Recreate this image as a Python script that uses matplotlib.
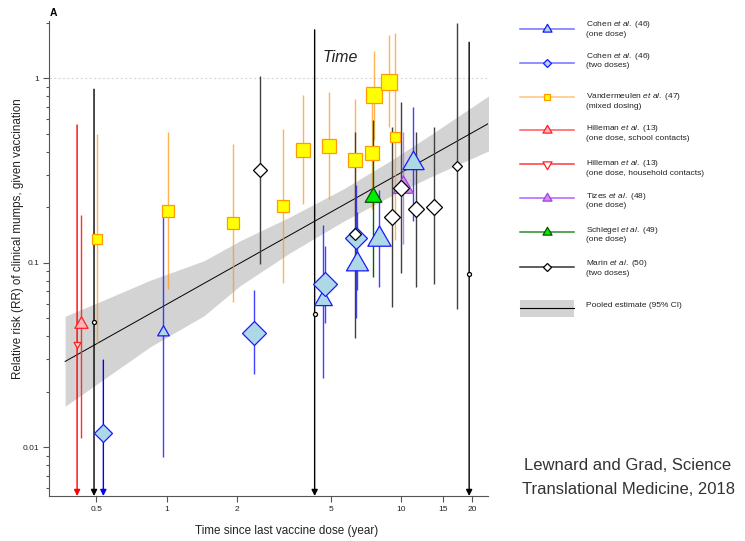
import numpy as np
import matplotlib
matplotlib.use("Agg")
import matplotlib.pyplot as plt
from matplotlib.path import Path
from matplotlib.ticker import FixedLocator, NullFormatter, NullLocator

plt.rcParams['font.family'] = ['Liberation Sans', 'DejaVu Sans']
plt.rcParams['mathtext.fontset'] = 'custom'
plt.rcParams['mathtext.rm'] = 'Liberation Sans'
plt.rcParams['mathtext.it'] = 'Liberation Sans:italic'

nan = np.nan

# estimates: time since last dose (years), RR, 95% CI (nan = lower bound off the axis)
cohen1_t = [0.96, 4.65, 6.5, 8.05, 11.2]
cohen1_rr = [0.042, 0.063, 0.099, 0.134, 0.347]
cohen1_lo = [0.0089, 0.0239, 0.0713, 0.074, 0.169]
cohen1_hi = [0.19, 0.16, 0.189, 0.248, 0.70]

cohen2_t = [0.537, 2.36, 4.74, 6.4]
cohen2_rr = [0.012, 0.0418, 0.0765, 0.136]
cohen2_lo = [nan, 0.0249, 0.047, 0.05]
cohen2_hi = [0.0297, 0.0712, 0.123, 0.264]

vdm_t = [0.503, 1.01, 1.92, 3.12, 3.82, 4.93, 6.32, 7.51, 7.66, 8.88, 9.36]
vdm_rr = [0.135, 0.191, 0.165, 0.204, 0.408, 0.431, 0.361, 0.394, 0.809, 0.958, 0.483]
vdm_lo = [0.0366, 0.0718, 0.0615, 0.078, 0.209, 0.221, 0.169, 0.195, 0.464, 0.544, 0.133]
vdm_hi = [0.497, 0.51, 0.44, 0.53, 0.81, 0.846, 0.769, 0.734, 1.41, 1.72, 1.76]

hill_school_t = [0.432]
hill_school_rr = [0.0464]
hill_school_lo = [0.01127]
hill_school_hi = [0.1815]

hill_house_t = [0.415]
hill_house_rr = [0.0364]
hill_house_lo = [nan]
hill_house_hi = [0.558]

tizes_t = [10.12]
tizes_rr = [0.2585]
tizes_lo = [0.126]
tizes_hi = [0.514]

schlegel_t = [7.56]
schlegel_rr = [0.226]
schlegel_lo = [0.084]
schlegel_hi = [0.594]

marin_t = [0.49, 2.50, 4.27, 6.36, 9.11, 9.95, 11.6, 13.8, 17.2, 19.45]
marin_rr = [0.0478, 0.319, 0.0528, 0.143, 0.177, 0.2535, 0.195, 0.201, 0.335, 0.087]
marin_lo = [nan, 0.0985, nan, 0.0393, 0.0574, 0.0877, 0.0742, 0.0765, 0.0562, nan]
marin_hi = [0.872, 1.03, 1.83, 0.513, 0.547, 0.741, 0.51, 0.543, 1.99, 1.566]

# pooled fit and its 95% band
pooled_t = [0.369, 23.6]
pooled_rr = [0.0292, 0.570]
band_t = [0.369, 0.52, 0.849, 1.44, 2.06, 3.34, 5.6, 8.93, 13.2, 23.6]
band_lo = [0.01668, 0.02265, 0.0350, 0.0516, 0.0753, 0.1129, 0.1664, 0.2285, 0.2906, 0.4045]
band_hi = [0.0513, 0.0616, 0.0804, 0.1025, 0.1318, 0.1768, 0.2493, 0.3554, 0.4898, 0.8037]

x_ticks = [0.5, 1, 2, 5, 10, 15, 20]
x_ticklabels = ['0.5', '1', '2', '5', '10', '15', '20']
y_ticks = [0.01, 0.1, 1]
y_ticklabels = ['0.01', '0.1', '1']

legend_labels = [
    r'Cohen $\it{et\ al.}$ ($\it{46}$)' + '\n(one dose)',
    r'Cohen $\it{et\ al.}$ ($\it{46}$)' + '\n(two doses)',
    r'Vandermeulen $\it{et\ al.}$ ($\it{47}$)' + '\n(mixed dosing)',
    r'Hilleman $\it{et\ al.}$ ($\it{13}$)' + '\n(one dose, school contacts)',
    r'Hilleman $\it{et\ al.}$ ($\it{13}$)' + '\n(one dose, household contacts)',
    r'Tizes $\it{et\ al.}$ ($\it{48}$)' + '\n(one dose)',
    r'Schlegel $\it{et\ al.}$ ($\it{49}$)' + '\n(one dose)',
    r'Marin $\it{et\ al.}$ ($\it{50}$)' + '\n(two doses)',
]

# equilateral triangles like R's pch 24/25
tri_up = Path([(-1, -0.577), (1, -0.577), (0, 1.155), (-1, -0.577)], closed=True)
tri_down = Path([(-1, 0.577), (1, 0.577), (0, -1.155), (-1, 0.577)], closed=True)

fig = plt.figure(figsize=(7.45, 5.41), dpi=100)
W, H = 745, 541
ax = fig.add_axes([49 / W, 1 - 496 / H, (488 - 49) / W, (496 - 20.7) / H])
ax.set_xscale('log')
ax.set_yscale('log')
ax.set_xlim(0.315, 23.4)
ax.set_ylim(0.00545, 2.05)
ybottom = ax.get_ylim()[0]

ax.axhline(1, color='#d8d8d8', lw=0.8, ls=(0, (2, 2)), zorder=0)

ax.fill_between(band_t, band_lo, band_hi, color='#d3d3d3', lw=0, zorder=1)
ax.plot(pooled_t, pooled_rr, color='black', lw=0.7, zorder=2)


def draw_series(t, rr, lo, hi, ms, marker, face, edge, ci_color, ci_alpha=1.0, arrow_color=None):
    for i in range(len(t)):
        if np.isnan(lo[i]):
            ax.annotate('', xy=(t[i], ybottom), xytext=(t[i], hi[i]),
                        arrowprops=dict(arrowstyle='-|>', color=arrow_color or ci_color,
                                        lw=1.0, mutation_scale=9, shrinkA=0, shrinkB=0),
                        annotation_clip=False, zorder=3)
        else:
            ax.plot([t[i], t[i]], [lo[i], hi[i]], color=ci_color, alpha=ci_alpha,
                    lw=1.0, solid_capstyle='butt', zorder=3)
        m = marker[i] if isinstance(marker, list) else marker
        ax.plot(t[i], rr[i], marker=m, ms=ms[i], mfc=face, mec=edge, mew=0.9,
                ls='none', zorder=4)


draw_series(vdm_t, vdm_rr, vdm_lo, vdm_hi, [6.5, 8.6, 8.4, 8.6, 10.6, 10.6, 10.3, 9.9, 11.7, 11.0, 6.7],
            's', '#ffff00', '#ff9a00', '#ff9a1a', 0.75)
draw_series(hill_school_t, hill_school_rr, hill_school_lo, hill_school_hi, [11],
            tri_up, '#ffb3bf', '#ff2020', '#ff3030')
draw_series(hill_house_t, hill_house_rr, hill_house_lo, hill_house_hi, [5.8],
            tri_down, '#ffd0d8', '#ff2020', '#ff2020', arrow_color='#ff0000')
draw_series(cohen1_t, cohen1_rr, cohen1_lo, cohen1_hi, [9.7, 14.7, 18.3, 19.4, 17.7],
            tri_up, '#add8e6', '#1a1aff', '#2020ff', 0.85)
draw_series(cohen2_t, cohen2_rr, cohen2_lo, cohen2_hi, [8.7, 12.2, 12.7, 10.7],
            'D', '#add8e6', '#1a1aff', '#2020ff', 0.85, arrow_color='#0000ff')
draw_series(tizes_t, tizes_rr, tizes_lo, tizes_hi, [16.6],
            tri_up, '#d88af0', '#a040e0', '#b070f0', 0.85)
draw_series(schlegel_t, schlegel_rr, schlegel_lo, schlegel_hi, [13.9],
            tri_up, '#00ee00', '#005500', '#006400')
marin_markers = ['o' if np.isnan(v) else 'D' for v in marin_lo]
draw_series(marin_t, marin_rr, marin_lo, marin_hi, [2.9, 7.5, 2.9, 6.6, 8.0, 7.8, 8.5, 8.5, 4.9, 2.9],
            marin_markers, 'white', 'black', '#404040', arrow_color='black')

# axes in the R style: left and bottom only
for side in ['top', 'right']:
    ax.spines[side].set_visible(False)
for side in ['left', 'bottom']:
    ax.spines[side].set_color('#555555')
    ax.spines[side].set_linewidth(0.8)

ax.xaxis.set_major_locator(FixedLocator(x_ticks))
ax.set_xticklabels(x_ticklabels)
ax.xaxis.set_minor_locator(NullLocator())
ax.yaxis.set_major_locator(FixedLocator(y_ticks))
ax.set_yticklabels(y_ticklabels)
ax.yaxis.set_minor_locator(FixedLocator([k * 10.0 ** e for e in range(-3, 1) for k in range(2, 10)]))
ax.yaxis.set_minor_formatter(NullFormatter())
ax.tick_params(which='major', direction='out', length=4, width=0.8, color='#555555',
               labelsize=6, labelcolor='#222222', pad=3)
ax.tick_params(which='minor', direction='out', length=2.5, width=0.8, color='#555555')

fig.text(287 / W, 1 - 531 / H, 'Time since last vaccine dose (year)', ha='center', va='center',
         fontsize=8.4, color='#222222')
fig.text(18 / W, 1 - 239 / H, 'Relative risk (RR) of clinical mumps, given vaccination',
         ha='center', va='center', rotation=90, fontsize=8.4, color='#222222')
fig.text(53.7 / W, 1 - 13 / H, 'A', ha='center', va='center', fontsize=7.5, fontweight='bold')
fig.text(323 / W, 1 - 62 / H, 'Time', ha='left', va='baseline', fontsize=11.5, style='italic',
         color='#222222')

fig.text(628 / W, 1 - 465 / H, 'Lewnard and Grad, Science', ha='center', va='center',
         fontsize=12, color='#333333')
fig.text(628 / W, 1 - 489 / H, 'Translational Medicine, 2018', ha='center', va='center',
         fontsize=12, color='#333333')

# legend, laid out in pixel units
lax = fig.add_axes([0, 0, 1, 1])
lax.set_xlim(0, W)
lax.set_ylim(H, 0)
lax.axis('off')

leg_y = [29, 62.7, 96.7, 130.3, 164.3, 198.3, 232.3, 266.7]
leg_text_y = [28.3, 60, 100.3, 132.7, 167.3, 200, 234, 267.3]
leg_style = [
    ('#7070ff', tri_up, 7.5, '#add8e6', '#1a1aff'),
    ('#7070ff', 'D', 4.2, '#add8e6', '#1a1aff'),
    ('#ffc27a', 's', 4.5, '#ffff00', '#ff9a00'),
    ('#ff5a5a', tri_up, 7.5, '#ffb3bf', '#ff2020'),
    ('#ff3a3a', tri_down, 7.5, 'white', '#ff2020'),
    ('#b060ff', tri_up, 7.5, '#d88af0', '#a040e0'),
    ('#2e8b2e', tri_up, 7.5, '#00ee00', '#005500'),
    ('#333333', 'D', 4.2, 'white', 'black'),
]
for y, ty, label, (lc, mk, ms, fc, ec) in zip(leg_y, leg_text_y, legend_labels, leg_style):
    lax.plot([520, 574], [y, y], color=lc, lw=1.1)
    lax.plot(547, y, marker=mk, ms=ms, mfc=fc, mec=ec, mew=0.9, ls='none')
    lax.text(585.7, ty, label, ha='left', va='center', fontsize=6, color='#222222', linespacing=1.15)

lax.fill_between([520, 574], [300, 300], [316.7, 316.7], color='#d3d3d3', lw=0)
lax.plot([520, 574], [308.3, 308.3], color='black', lw=0.8)
lax.text(585.7, 305.7, 'Pooled estimate (95% CI)', ha='left', va='center', fontsize=6, color='#222222')

plt.savefig("out.png", dpi=100)
